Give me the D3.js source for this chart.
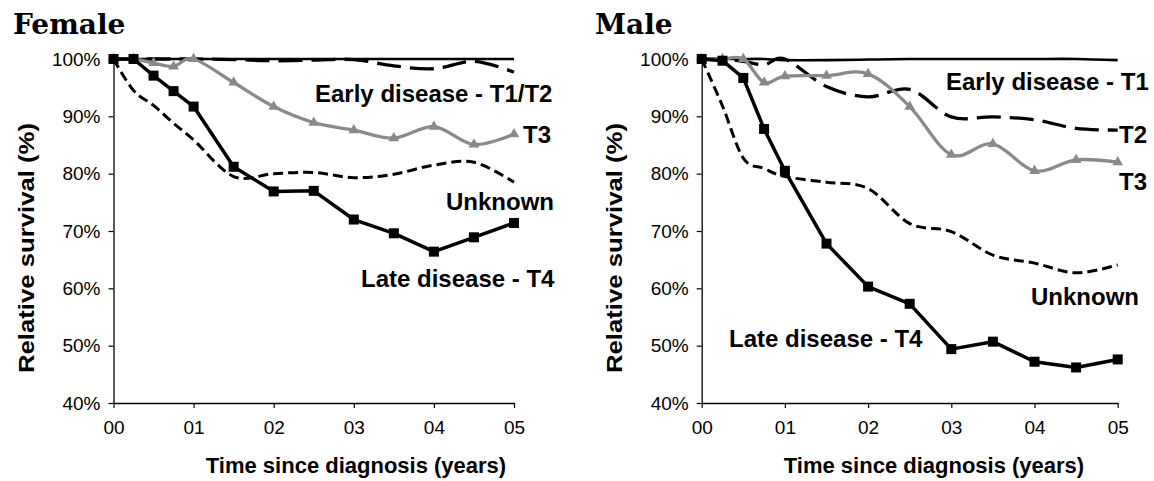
<!DOCTYPE html>
<html><head><meta charset="utf-8">
<script src="https://cdn.jsdelivr.net/npm/d3@7/dist/d3.min.js"></script>
<style>
html,body{margin:0;padding:0;background:#fff;}
svg{display:block;}
</style></head>
<body>
<svg id="chart" width="1154" height="481"></svg>
<script>
// ---- data ----
const times = [0, 0.25, 0.5, 0.75, 1, 1.5, 2, 2.5, 3, 3.5, 4, 4.5, 5];
const xTickValues = [0, 1, 2, 3, 4, 5];
const xTickLabels = ["00", "01", "02", "03", "04", "05"];
const yTickValues = [40, 50, 60, 70, 80, 90, 100];
const yTickLabels = ["40%", "50%", "60%", "70%", "80%", "90%", "100%"];

const femaleSolid   = [100, 100, 100, 100, 100, 100, 100, 100, 100, 100, 100, 100, 100];
const femaleEarly   = [100, 100, 100, 100, 100, 99.9, 99.7, 99.8, 99.9, 98.8, 98.3, 99.6, 97.7];
const femaleT3      = [100, 100, 99.3, 98.7, 100, 95.9, 91.7, 88.9, 87.6, 86.2, 88.2, 85.1, 86.9];
const femaleUnknown = [100, 94.5, 91.9, 88.8, 85.9, 79.5, 80.0, 80.2, 79.3, 79.9, 81.5, 82.0, 78.5];
const femaleT4      = [100, 100, 97.1, 94.4, 91.7, 81.2, 76.9, 77.0, 72.0, 69.6, 66.4, 68.9, 71.4];

const maleT1        = [100, 100, 100, 100, 99.8, 99.8, 99.9, 100, 100, 100, 100, 100, 99.8];
const maleT2        = [100, 100, 99.6, 99.0, 100, 95.2, 93.4, 94.7, 89.9, 89.9, 89.4, 87.9, 87.6];
const maleT3        = [100, 100, 100, 95.9, 97.0, 97.1, 97.4, 91.7, 83.3, 85.2, 80.5, 82.4, 82.0];
const maleUnknown   = [100, 91.8, 82.7, 80.9, 79.5, 78.5, 77.4, 71.3, 69.9, 65.8, 64.4, 62.7, 64.1];
const maleT4        = [100, 99.7, 96.7, 87.8, 80.5, 67.8, 60.3, 57.3, 49.4, 50.7, 47.2, 46.2, 47.6];

const yAxisTitle = "Relative survival (%)";
const xAxisTitle = "Time since diagnosis (years)";

// ---- drawing ----
const svg = d3.select("#chart");
const GRAY = "#8a8a8a";
const FONT = "Arial, 'Liberation Sans', sans-serif";
const smooth = d3.curveCardinal.tension(0);

const panels = [
  {
    title: "Female", titleX: 13, x0: 113.5, x1: 514, yTitleX: 27, xTitleX: 356,
    series: [
      {values: femaleSolid, color: "#000", width: 2.6, dash: null, curve: d3.curveLinear},
      {values: femaleEarly, color: "#000", width: 3.3, dash: "24,9", curve: smooth},
      {values: femaleUnknown, color: "#000", width: 3, dash: "10,5", curve: smooth},
      {values: femaleT3, color: GRAY, width: 3.3, dash: null, curve: smooth, marker: "triangle"},
      {values: femaleT4, color: "#000", width: 3.5, dash: null, curve: d3.curveLinear, marker: "square"}
    ],
    labels: [
      {text: "Early disease - T1/T2", x: 315, y: 102},
      {text: "T3", x: 523, y: 143},
      {text: "Unknown", x: 446, y: 210},
      {text: "Late disease - T4", x: 361, y: 287}
    ]
  },
  {
    title: "Male", titleX: 595, x0: 701.7, x1: 1117.7, yTitleX: 615, xTitleX: 934,
    series: [
      {values: maleT1, color: "#000", width: 2.6, dash: null, curve: smooth},
      {values: maleT2, color: "#000", width: 3.3, dash: "24,9", curve: smooth},
      {values: maleUnknown, color: "#000", width: 3, dash: "10,5", curve: smooth},
      {values: maleT3, color: GRAY, width: 3.3, dash: null, curve: smooth, marker: "triangle"},
      {values: maleT4, color: "#000", width: 3.5, dash: null, curve: d3.curveLinear, marker: "square"}
    ],
    labels: [
      {text: "Early disease - T1", x: 946, y: 90},
      {text: "T2", x: 1119, y: 143},
      {text: "T3", x: 1119, y: 190},
      {text: "Unknown", x: 1031, y: 305},
      {text: "Late disease - T4", x: 729, y: 347}
    ]
  }
];

const yTop = 59, yBottom = 403;

panels.forEach(p => {
  const x = d3.scaleLinear().domain([0, 5]).range([p.x0, p.x1]);
  const y = d3.scaleLinear().domain([40, 100]).range([yBottom, yTop]);
  const g = svg.append("g");

  // title
  g.append("text")
    .attr("x", p.titleX).attr("y", 34)
    .attr("font-family", "'DejaVu Serif', serif")
    .attr("font-weight", "bold")
    .attr("font-size", 28)
    .attr("fill", "#000")
    .text(p.title);

  // y axis
  const yAxis = d3.axisLeft(y).tickValues(yTickValues)
    .tickFormat((d, i) => yTickLabels[i]).tickSizeInner(5).tickSizeOuter(0).tickPadding(8);
  const gy = g.append("g").attr("transform", `translate(${p.x0},0)`).call(yAxis);
  gy.select(".domain").attr("stroke", "#000").attr("stroke-width", 1.3);
  gy.selectAll(".tick line").attr("stroke", "#000").attr("stroke-width", 1.2);
  gy.selectAll(".tick text").attr("font-family", FONT)
    .attr("font-size", 19).attr("fill", "#000");

  // x axis
  const xAxis = d3.axisBottom(x).tickValues(xTickValues)
    .tickFormat((d, i) => xTickLabels[i]).tickSizeInner(5).tickSizeOuter(0).tickPadding(13);
  const gx = g.append("g").attr("transform", `translate(0,${yBottom})`).call(xAxis);
  gx.select(".domain").attr("stroke", "#000").attr("stroke-width", 1.3);
  gx.selectAll(".tick line").attr("stroke", "#000").attr("stroke-width", 1.2);
  gx.selectAll(".tick text").attr("font-family", FONT)
    .attr("font-size", 19).attr("fill", "#000");

  // axis titles
  g.append("text")
    .attr("transform", `translate(${p.yTitleX + 7},248) rotate(-90)`)
    .attr("text-anchor", "middle")
    .attr("font-family", FONT)
    .attr("font-weight", "bold").attr("font-size", 22).attr("fill", "#000")
    .attr("textLength", 250).attr("lengthAdjust", "spacingAndGlyphs")
    .text(yAxisTitle);
  g.append("text")
    .attr("x", p.xTitleX).attr("y", 473)
    .attr("text-anchor", "middle")
    .attr("font-family", FONT)
    .attr("font-weight", "bold").attr("font-size", 22).attr("fill", "#000")
    .text(xAxisTitle);

  // series
  p.series.forEach(s => {
    const pts = times.map((t, i) => [t, s.values[i]]);
    const line = d3.line().x(d => x(d[0])).y(d => y(d[1])).curve(s.curve);
    g.append("path")
      .attr("d", line(pts))
      .attr("fill", "none")
      .attr("stroke", s.color)
      .attr("stroke-width", s.width)
      .attr("stroke-dasharray", s.dash)
      .attr("stroke-linejoin", "round");
    if (s.marker === "square") {
      g.selectAll(null).data(pts).enter().append("rect")
        .attr("x", d => x(d[0]) - 5).attr("y", d => y(d[1]) - 5)
        .attr("width", 10).attr("height", 10).attr("fill", s.color);
    } else if (s.marker === "triangle") {
      const tri = d3.symbol().type(d3.symbolTriangle).size(50);
      g.selectAll(null).data(pts).enter().append("path")
        .attr("d", tri())
        .attr("transform", d => `translate(${x(d[0])},${y(d[1])})`)
        .attr("fill", s.color);
    }
  });

  // labels
  p.labels.forEach(l => {
    g.append("text")
      .attr("x", l.x).attr("y", l.y)
      .attr("font-family", FONT)
      .attr("font-weight", "bold").attr("font-size", 24).attr("fill", "#000")
      .text(l.text);
  });
});
</script>
</body></html>
